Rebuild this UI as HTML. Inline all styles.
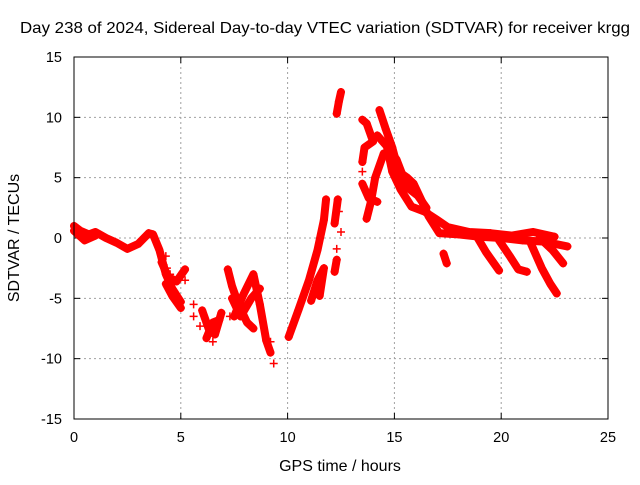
<!DOCTYPE html>
<html><head><meta charset="utf-8"><style>
body{margin:0;background:#fff}
svg{font-family:"Liberation Sans",sans-serif;font-size:14.5px}
</style></head><body>
<svg id="chart" width="640" height="480" viewBox="0 0 640 480">
<rect width="640" height="480" fill="#fff"/>
<text x="325" y="33" text-anchor="middle" textLength="610" lengthAdjust="spacingAndGlyphs" style="font-size:16px">Day 238 of 2024, Sidereal Day-to-day VTEC variation (SDTVAR) for receiver krgg</text>
<text transform="translate(19,238) rotate(-90)" text-anchor="middle" style="font-size:16px">SDTVAR / TECUs</text>
<text x="340" y="471" text-anchor="middle" style="font-size:16px">GPS time / hours</text>
<g id="grid"></g><g id="ticks"></g><g id="marks"></g>
<rect x="74" y="57" width="534" height="362" fill="none" stroke="#000" stroke-width="1"/>
</svg>
<script>
const xTicks=[0,5,10,15,20,25];
const yTicks=[-15,-10,-5,0,5,10,15];
const trackMain=[[0,1],[0.3,0.6],[0.7,0.3],[1,0.5],[1.5,0],[2,-0.4],[2.5,-0.9],[3,-0.5],[3.5,0.4],[3.7,0.3],[4,-1],[4.3,-3],[4.6,-4.2],[5,-5.3]];
const trackMainLow=[[0,0.6],[0.5,-0.2],[1,0.2]];
const trackMainLow2=[[4.3,-3.8],[4.6,-4.8],[5,-5.8]];
const trackMainMid=[[4.1,-2],[4.4,-3.2],[4.8,-3.6],[5.2,-2.6]];
const trackSpots=[[4.3,-1.5],[4.35,-2.5],[4.5,-3],[5.1,-2.8],[5.2,-3.5],[5.6,-5.5],[5.6,-6.5],[5.9,-7.3],[6.5,-8.6],[7.3,-6.5],[9.35,-10.4],[9.2,-8.6],[12.4,2.2],[12.5,0.5],[12.3,-0.9],[13.5,5.5]];
const trackC=[[6,-6],[6.3,-7.5],[6.6,-8],[6.9,-6.2]];
const trackC2=[[6.2,-8.3],[6.5,-7],[6.8,-6.8]];
const trackD1=[[7.2,-2.6],[7.4,-4],[7.7,-5.5],[8.1,-7],[8.4,-7.5]];
const trackD2=[[7.5,-6.5],[7.9,-4.8],[8.4,-3],[8.7,-5.5],[9,-8.5],[9.2,-9.5]];
const trackD3=[[7.4,-5],[7.8,-6.5],[8.3,-5],[8.7,-4.2]];
const trackE1=[[10.05,-8.2],[10.5,-6],[11,-3.5],[11.4,-1],[11.7,1.5],[11.8,3.2]];
const trackE2=[[11.1,-5.2],[11.4,-3.5],[11.7,-2.5],[11.5,-4.8]];
const trackE3=[[12.2,-2.8],[12.3,-1.8]];
const trackE4=[[12.2,1.2],[12.35,3.2]];
const trackTop=[[12.3,10.3],[12.4,11.3],[12.5,12.1]];
const trackF1=[[13.5,9.8],[13.7,9.5],[14,8],[13.6,7.5],[13.5,6.3]];
const trackF2=[[13.5,4.5],[13.8,3.3],[14.2,3]];
const trackF3=[[13.7,1.6],[13.9,3],[14.1,5],[14.5,7]];
const trackG=[[14.3,10.6],[14.6,9],[14.9,7.5],[15.2,5.5],[15.6,5],[15.9,4.5],[16.3,3],[16.6,1.8],[17.1,0.4],[18,0.3],[19,0.1],[20,0],[21,-0.2],[22,-0.3],[23.1,-0.7]];
const trackG2=[[14.6,8],[14.9,5.5],[15.3,4],[15.8,2.6],[16.4,2.2],[17,1.5],[17.5,0.9],[18.5,0.5],[19.5,0.4],[20.5,0.2],[21.5,0.5],[22.5,0.1]];
const trackG3=[[14.2,8.5],[14.7,7.5],[15.1,6.5],[15.6,4.2],[16.1,3.5],[16.5,2.5]];
const trackB1=[[18.9,0],[19.3,-1.2],[19.9,-2.7]];
const trackB2=[[19.9,-0.2],[20.4,-1.5],[20.8,-2.6],[21.2,-2.8]];
const trackB3=[[21.4,-0.5],[21.9,-2.5],[22.3,-3.8],[22.6,-4.6]];
const trackB4=[[21.8,0],[22.4,-1],[22.9,-2.1]];
const trackBlob=[[17.3,-1.3],[17.45,-2.1]];
const tracks=[trackMain,trackMainLow,trackMainLow2,trackMainMid,trackC,trackC2,trackD1,trackD2,trackD3,trackE1,trackE2,trackE3,trackE4,trackTop,trackF1,trackF2,trackF3,trackG,trackG2,trackG3,trackB1,trackB2,trackB3,trackB4,trackBlob];

const X0=74,X1=608,Y0=419,Y1=57;
const xs=v=>X0+(v-0)/25*(X1-X0);
const ys=v=>Y0-(v+15)/30*(Y0-Y1);
const NS="http://www.w3.org/2000/svg";
const grid=document.getElementById('grid'),ticks=document.getElementById('ticks'),marks=document.getElementById('marks');
function mk(tag,attrs,parent){const e=document.createElementNS(NS,tag);for(const k in attrs)e.setAttribute(k,attrs[k]);parent.appendChild(e);return e;}
xTicks.forEach(t=>{
  const x=xs(t);
  if(t>0&&t<25){const g=mk('line',{x1:x,x2:x,y1:Y1,y2:Y0,stroke:'#a0a0a0','stroke-dasharray':'2,3'},grid);
  
  }
  mk('line',{x1:x,x2:x,y1:Y0,y2:Y0-6,stroke:'#000'},ticks);
  mk('line',{x1:x,x2:x,y1:Y1,y2:Y1+6,stroke:'#000'},ticks);
  const l=mk('text',{x:x,y:Y0+23,'text-anchor':'middle'},ticks);l.textContent=t;
  
  
});
yTicks.forEach(t=>{
  const y=ys(t);
  if(t>-15&&t<15){const g=mk('line',{x1:X0,x2:X1,y1:y,y2:y,stroke:'#a0a0a0','stroke-dasharray':'2,3'},grid);
  
  }
  mk('line',{x1:X0,x2:X0+6,y1:y,y2:y,stroke:'#000'},ticks);
  mk('line',{x1:X1,x2:X1-6,y1:y,y2:y,stroke:'#000'},ticks);
  const l=mk('text',{x:X0-12,y:y+5,'text-anchor':'end'},ticks);l.textContent=t;
  
  
});
function plus(t,v){
  const x=xs(t),y=ys(v);
  const p=mk('path',{d:`M${x-4},${y}h8M${x},${y-4}v8`,stroke:'#f00','stroke-width':1.5},marks);
  
  
}
tracks.forEach(tr=>{
  const pl=mk('polyline',{points:tr.map(p=>xs(p[0])+','+ys(p[1])).join(' '),fill:'none',stroke:'#f00','stroke-width':8,'stroke-linejoin':'round','stroke-linecap':'round'},marks);
  
  
  tr.forEach(p=>plus(p[0],p[1]));
});
trackSpots.forEach(p=>plus(p[0],p[1]));
</script>
</body></html>
